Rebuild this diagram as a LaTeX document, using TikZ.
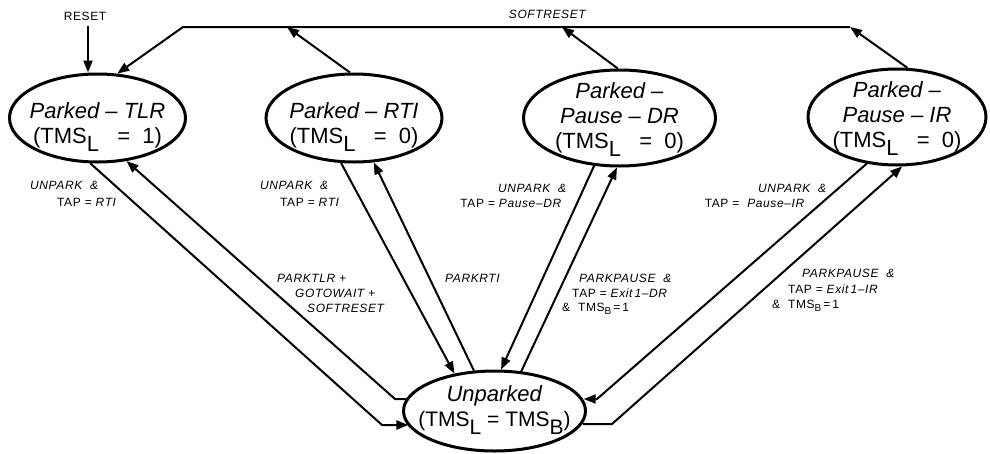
\documentclass[tikz,border=0pt]{standalone}
\usepackage{fontspec}
\setmainfont{Liberation Sans}
\newfontfamily\lblfont[LetterSpace=5]{Liberation Sans}
\usetikzlibrary{arrows.meta,shapes.geometric}
\newcommand\lowsub[1]{\raisebox{-8pt}[0pt][0pt]{#1}}
\newcommand\topstrut{\rule{0pt}{30pt}}
\newcommand\botstrut{\rule[-10pt]{0pt}{10pt}}
\tikzset{
  state/.style={ellipse, draw, line width=3pt, inner sep=0pt},
  stext/.style={inner sep=0pt, align=center, font=\fontsize{22}{25}\selectfont},
  conn/.style={line width=2pt, -{Triangle[length=12pt,width=9pt]}},
  lbl/.style={inner sep=0pt, anchor=west, font=\lblfont\fontsize{12}{14}\selectfont},
}
\begin{document}
\begin{tikzpicture}[x=1pt,y=-1pt]
\useasboundingbox (0,0) rectangle (990,453);

% states
\node[state, minimum width=176pt, minimum height=88pt] (tlr) at (97.5,118) {};
\node[stext] (tlrt) at (tlr.center)
  {\topstrut\textit{Parked – TLR}\\(TMS\lowsub{L}\ \ \ =\ \ 1)};
\node[state, minimum width=176pt, minimum height=88pt] (rti) at (354,118) {};
\node[stext] (rtit) at (rti.center)
  {\topstrut\textit{Parked – RTI}\\(TMS\lowsub{L}\ \ \ =\ \ 0)};
\node[state, minimum width=192pt, minimum height=96pt] (dr) at (619.5,118) {};
\node[stext] (drt) at (dr.center)
  {\textit{Parked –}\\\textit{Pause – DR}\\(TMS\lowsub{L}\ \ \ =\ \ 0)};
\node[state, minimum width=178pt, minimum height=96pt] (ir) at (897,117) {};
\node[stext] (irt) at (ir.center)
  {\textit{Parked –}\\\textit{Pause – IR}\\(TMS\lowsub{L}\ \ \ =\ \ 0)};
\node[state, minimum width=182pt, minimum height=80pt] (unp) at (494.5,411) {};
\node[stext] (unpt) at (unp.center)
  {\textit{Unparked}\\{\fontsize{21}{25}\selectfont (TMS\lowsub{L} = TMS\lowsub{B})}\botstrut};

% top labels
\node[lbl, anchor=center] (rs) at (85,16) {RESET};
\node[lbl, anchor=center] (sr) at (548,14) {\textit{SOFTRESET}};

% unpark labels
\node[lbl] (l1a) at (30,185) {\textit{UNPARK\ \ \&}};
\node[lbl] (l1b) at (57,202) {TAP = \textit{RTI}};
\node[lbl] (l2a) at (260,185) {\textit{UNPARK\ \ \&}};
\node[lbl] (l2b) at (280,202) {TAP = \textit{RTI}};
\node[lbl, anchor=east] (l3a) at (567,188) {\textit{UNPARK\ \ \&}};
\node[lbl, anchor=east] (l3b) at (562,203) {TAP = \textit{Pause–DR}};
\node[lbl, anchor=east] (l4a) at (827,188) {\textit{UNPARK\ \ \&}};
\node[lbl, anchor=east] (l4b) at (805,203) {TAP =\ \ \textit{Pause–IR}};

% park labels
\node[lbl] (p1a) at (277,278) {\textit{PARKTLR +}};
\node[lbl] (p1b) at (295,293) {\textit{GOTOWAIT +}};
\node[lbl] (p1c) at (307,308) {\textit{SOFTRESET}};
\node[lbl] (p2) at (445,278) {\textit{PARKRTI}};
\node[lbl] (p3a) at (579,278) {\textit{PARKPAUSE\ \ \&}};
\node[lbl] (p3b) at (572,293) {TAP = \textit{Exit\,1–DR}};
\node[lbl] (p3c) at (562,309) {\&\ \ TMS\raisebox{-3pt}{\fontsize{10}{10}\selectfont B}\,=\,1};
\node[lbl] (p4a) at (802,273) {\textit{PARKPAUSE\ \ \&}};
\node[lbl] (p4b) at (788,289) {TAP = \textit{Exit\,1–IR}};
\node[lbl] (p4c) at (772,306) {\&\ \ TMS\raisebox{-3pt}{\fontsize{10}{10}\selectfont B}\,=\,1};

% coordinates
\coordinate (rsc) at (88,26);
\coordinate (sr1) at (183,27);
\coordinate (sr2) at (850,27);
\coordinate (srr) at (287,27);
\coordinate (srd) at (562,27);
\coordinate (t1) at (382,425);
\coordinate (t2) at (395,399);
\coordinate (i1) at (597,399);
\coordinate (i2) at (612,424);

% reset / softreset
\draw[conn] (rsc) -- (rsc |- tlr.north);
\draw[conn] (sr2) -- (sr1) -- (tlr.66.6);
\draw[conn] (rti.95) -- (srr);
\draw[conn] (dr.92) -- (srd);
\draw[conn] (ir.78.5) -- (sr2);

% TLR
\draw[conn] (tlr.-99.5) -- (t1) -- (t1 -| unp.-170.7);
\draw[conn] (t2 -| unp.172.1) -- (t2) -- (tlr.-56.2);
% RTI
\draw[conn] (rti.-106.6) -- (unp.137.5);
\draw[conn] (unp.117.7) -- (rti.-66.8);
% DR
\draw[conn] (dr.-118.4) -- (unp.81.4);
\draw[conn] (unp.56.1) -- (dr.-93);
% IR
\draw[conn] (ir.-123.7) -- (i1) -- (i1 -| unp.7.9);
\draw[conn] (i2 -| unp.-8.6) -- (i2) -- (ir.-84.6);
\end{tikzpicture}
\end{document}
